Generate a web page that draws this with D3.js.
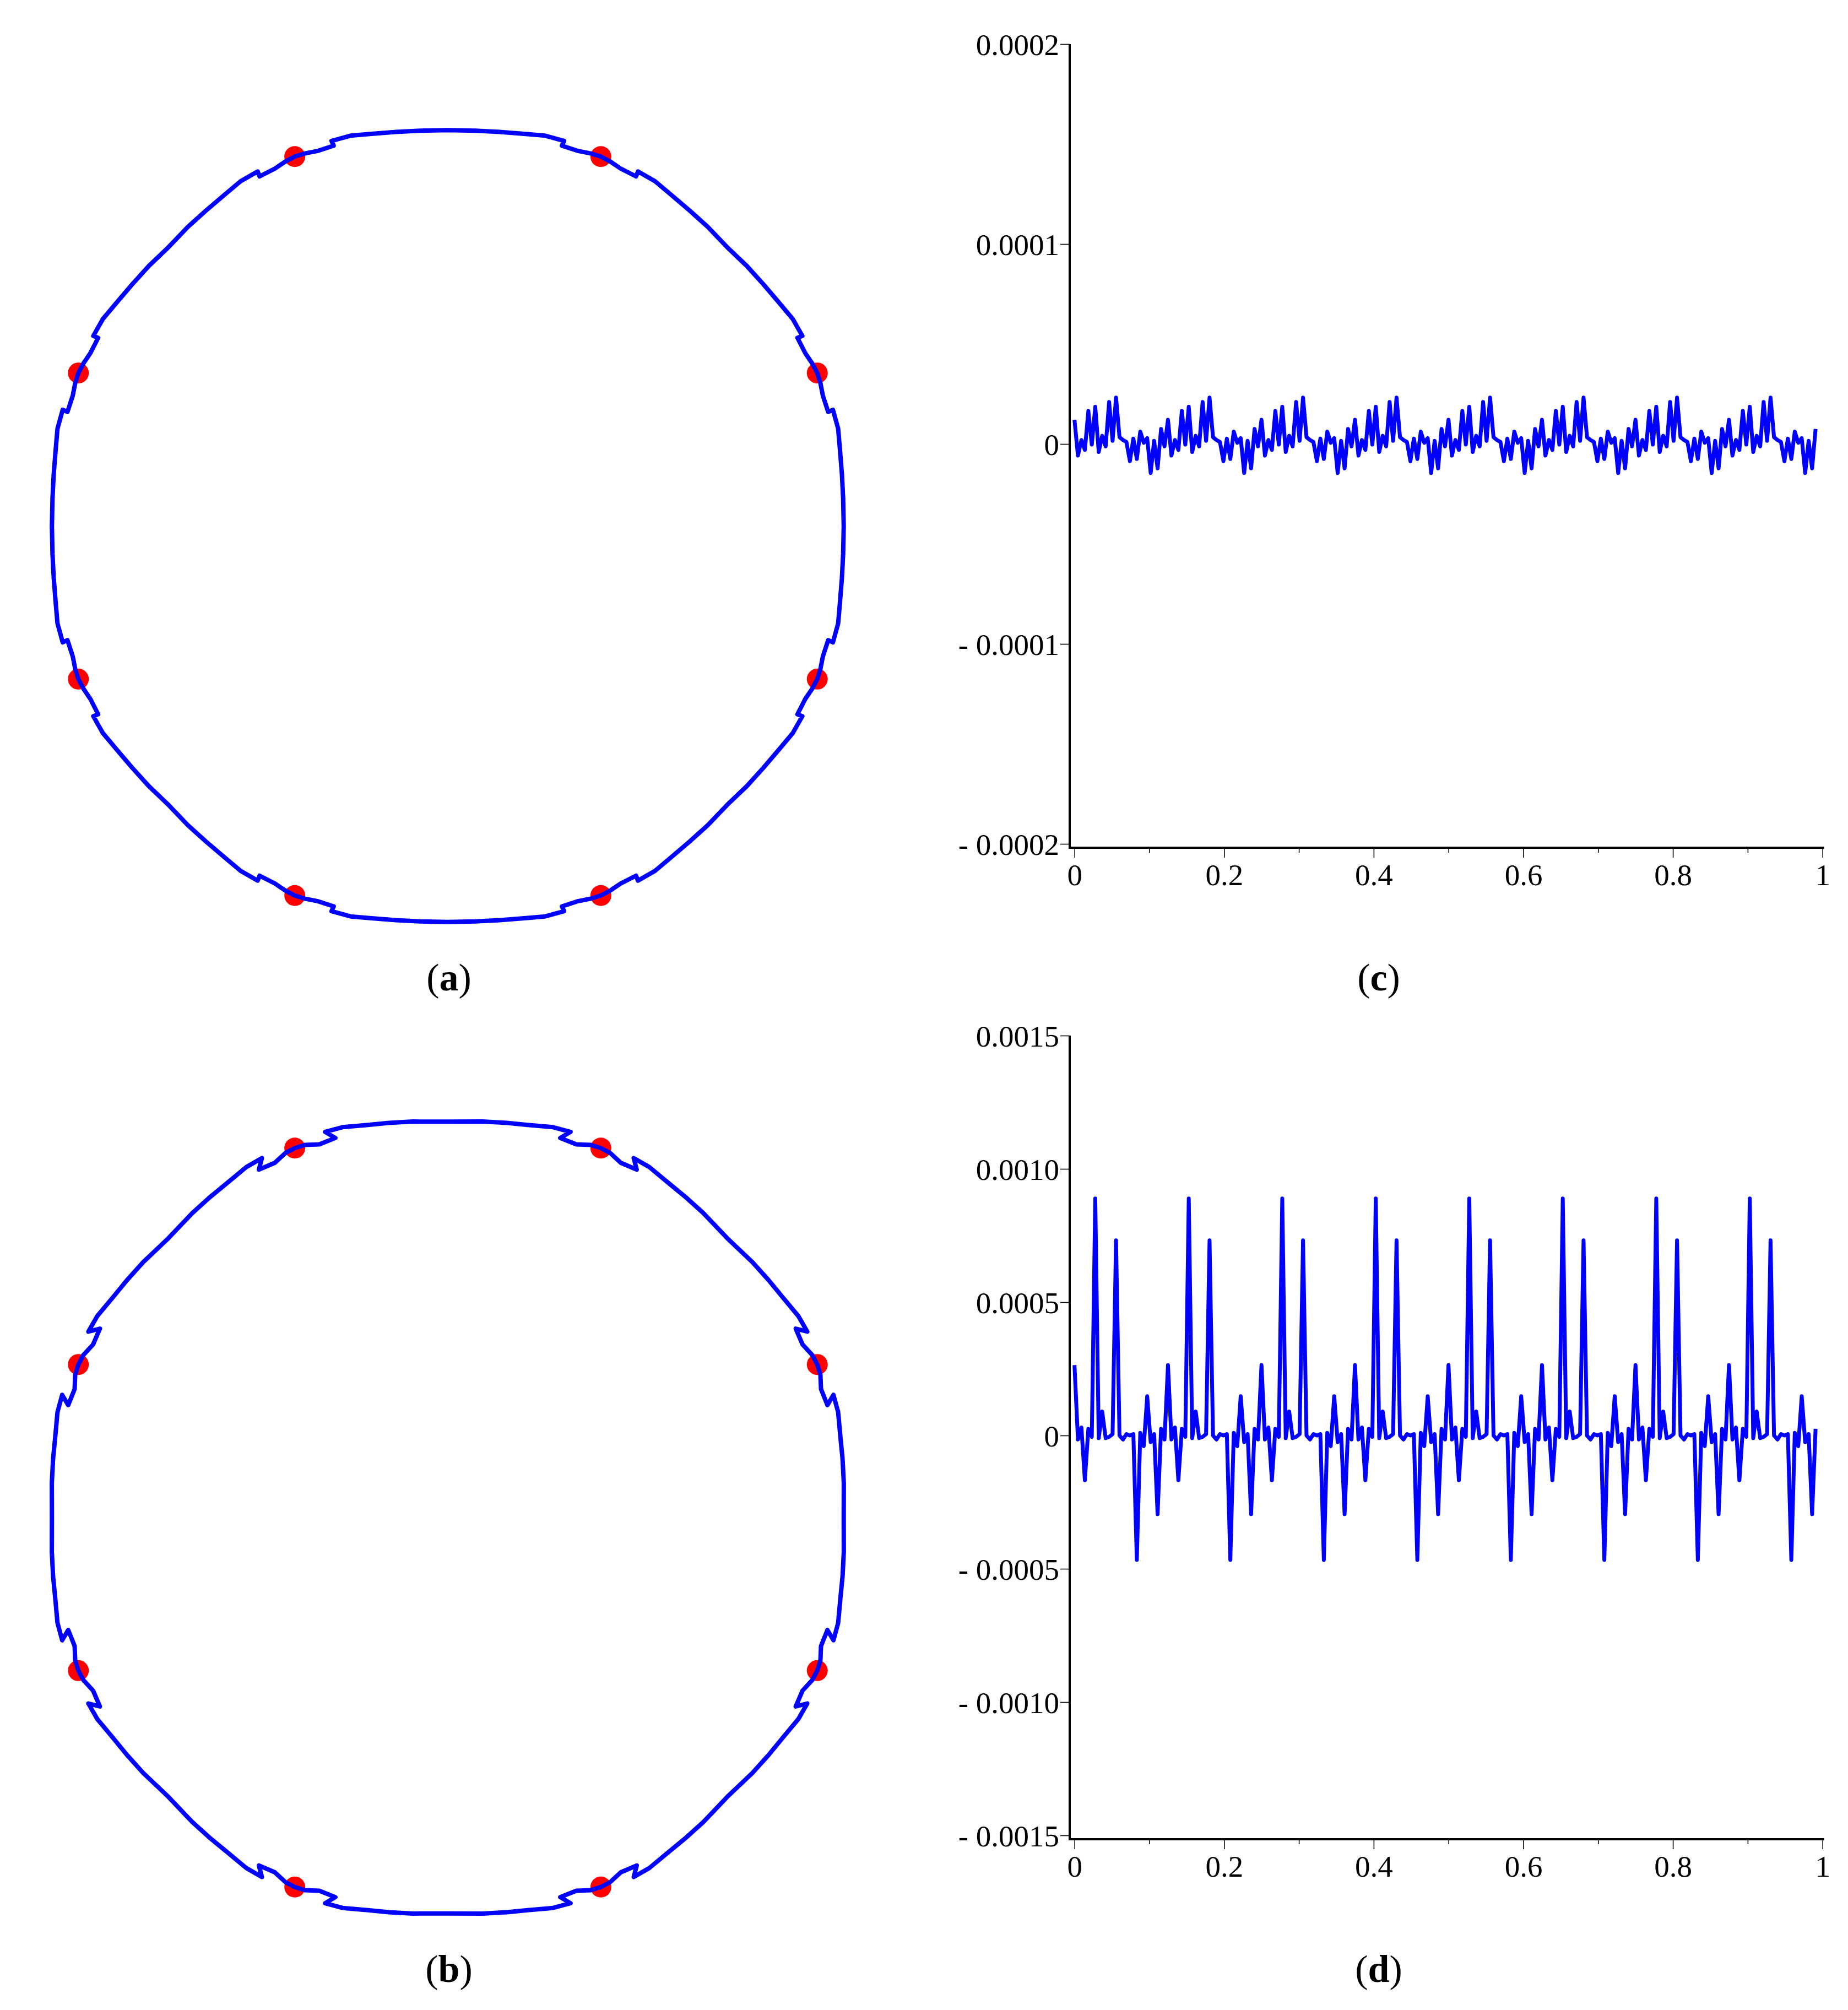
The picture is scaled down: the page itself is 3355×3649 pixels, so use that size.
<!DOCTYPE html>
<html>
<head>
<meta charset="utf-8">
<script src="https://cdn.jsdelivr.net/npm/d3@7"></script>
<style>
  body { margin: 0; background: #fff; }
</style>
</head>
<body>
<svg id="fig" width="3355" height="3649"></svg>
<script>
// Closed curves as [angle (deg, clockwise from top), radius / dot radius]
var curveA = [
  [22.5,1.000],[24,0.998],[25.8,0.993],[28.3,0.993],[28.2,1.006],[31,1.006],[34,0.999],[37.5,0.994],[41,0.991],[45,0.987],[49,0.991],[52.5,0.994],[56,0.999],[59,1.006],[61.8,1.006],[61.7,0.993],[64.2,0.993],[66,0.998],
  [67.5,1.000],[69,0.998],[70.8,0.993],[73.3,0.993],[73.2,1.006],[76,1.006],[79,0.999],[82.5,0.994],[86,0.991],[90,0.990],[94,0.991],[97.5,0.994],[101,0.999],[104,1.006],[106.8,1.006],[106.7,0.993],[109.2,0.993],[111,0.998],
  [112.5,1.000],[114,0.998],[115.8,0.993],[118.3,0.993],[118.2,1.006],[121,1.006],[124,0.999],[127.5,0.994],[131,0.991],[135,0.987],[139,0.991],[142.5,0.994],[146,0.999],[149,1.006],[151.8,1.006],[151.7,0.993],[154.2,0.993],[156,0.998],
  [157.5,1.000],[159,0.998],[160.8,0.993],[163.3,0.993],[163.2,1.006],[166,1.006],[169,0.999],[172.5,0.994],[176,0.991],[180,0.990],[184,0.991],[187.5,0.994],[191,0.999],[194,1.006],[196.8,1.006],[196.7,0.993],[199.2,0.993],[201,0.998],
  [202.5,1.000],[204,0.998],[205.8,0.993],[208.3,0.993],[208.2,1.006],[211,1.006],[214,0.999],[217.5,0.994],[221,0.991],[225,0.987],[229,0.991],[232.5,0.994],[236,0.999],[239,1.006],[241.8,1.006],[241.7,0.993],[244.2,0.993],[246,0.998],
  [247.5,1.000],[249,0.998],[250.8,0.993],[253.3,0.993],[253.2,1.006],[256,1.006],[259,0.999],[262.5,0.994],[266,0.991],[270,0.990],[274,0.991],[277.5,0.994],[281,0.999],[284,1.006],[286.8,1.006],[286.7,0.993],[289.2,0.993],[291,0.998],
  [292.5,1.000],[294,0.998],[295.8,0.993],[298.3,0.993],[298.2,1.006],[301,1.006],[304,0.999],[307.5,0.994],[311,0.991],[315,0.987],[319,0.991],[322.5,0.994],[326,0.999],[329,1.006],[331.8,1.006],[331.7,0.993],[334.2,0.993],[336,0.998],
  [337.5,1.000],[339,0.998],[340.8,0.993],[343.3,0.993],[343.2,1.006],[346,1.006],[349,0.999],[352.5,0.994],[356,0.991],[360,0.990],[364,0.991],[367.5,0.994],[371,0.999],[374,1.006],[376.8,1.006],[376.7,0.993],[379.2,0.993],[381,0.998]
];

var curveB = [
  [22.5,1.000],[24,0.998],[26,0.987],[28.5,0.990],[27.35,1.012],[29.9,1.011],[33.5,1.002],[36.5,0.998],[40,0.994],[45,0.988],[50,0.994],[53.5,0.998],[56.5,1.002],[60.1,1.011],[62.65,1.012],[61.5,0.990],[64,0.987],[66,0.998],
  [67.5,1.000],[69,0.998],[71,0.987],[73.5,0.990],[72.35,1.012],[74.9,1.011],[78.5,1.002],[81.5,0.998],[85,0.994],[90,0.990],[95,0.994],[98.5,0.998],[101.5,1.002],[105.1,1.011],[107.65,1.012],[106.5,0.990],[109,0.987],[111,0.998],
  [112.5,1.000],[114,0.998],[116,0.987],[118.5,0.990],[117.35,1.012],[119.9,1.011],[123.5,1.002],[126.5,0.998],[130,0.994],[135,0.988],[140,0.994],[143.5,0.998],[146.5,1.002],[150.1,1.011],[152.65,1.012],[151.5,0.990],[154,0.987],[156,0.998],
  [157.5,1.000],[159,0.998],[161,0.987],[163.5,0.990],[162.35,1.012],[164.9,1.011],[168.5,1.002],[171.5,0.998],[175,0.994],[180,0.990],[185,0.994],[188.5,0.998],[191.5,1.002],[195.1,1.011],[197.65,1.012],[196.5,0.990],[199,0.987],[201,0.998],
  [202.5,1.000],[204,0.998],[206,0.987],[208.5,0.990],[207.35,1.012],[209.9,1.011],[213.5,1.002],[216.5,0.998],[220,0.994],[225,0.988],[230,0.994],[233.5,0.998],[236.5,1.002],[240.1,1.011],[242.65,1.012],[241.5,0.990],[244,0.987],[246,0.998],
  [247.5,1.000],[249,0.998],[251,0.987],[253.5,0.990],[252.35,1.012],[254.9,1.011],[258.5,1.002],[261.5,0.998],[265,0.994],[270,0.990],[275,0.994],[278.5,0.998],[281.5,1.002],[285.1,1.011],[287.65,1.012],[286.5,0.990],[289,0.987],[291,0.998],
  [292.5,1.000],[294,0.998],[296,0.987],[298.5,0.990],[297.35,1.012],[299.9,1.011],[303.5,1.002],[306.5,0.998],[310,0.994],[315,0.988],[320,0.994],[323.5,0.998],[326.5,1.002],[330.1,1.011],[332.65,1.012],[331.5,0.990],[334,0.987],[336,0.998],
  [337.5,1.000],[339,0.998],[341,0.987],[343.5,0.990],[342.35,1.012],[344.9,1.011],[348.5,1.002],[351.5,0.998],[355,0.994],[360,0.990],[365,0.994],[368.5,0.998],[371.5,1.002],[375.1,1.011],[377.65,1.012],[376.5,0.990],[379,0.987],[381,0.998]
];

// red interpolation points (angle, radius)
var dotAngles = [22.5, 67.5, 112.5, 157.5, 202.5, 247.5, 292.5, 337.5];
var dotRadius = 1;

// error curves, sampled uniformly on [0,1)
var nSamples = 216;
var errC = [
  1.21e-5,-5.8e-6,2e-6,-3e-6,1.65e-5,-3e-7,1.86e-5,-4e-6,4.1e-6,-1.2e-6,2.1e-5,1.6e-6,2.32e-5,3.4e-6,2e-6,1e-6,-8.6e-6,2.7e-6,-7.5e-6,6.2e-6,6e-7,2.9e-6,-1.45e-5,1.6e-6,-1.22e-5,7.5e-6,-1.2e-6,
  1.21e-5,-5.8e-6,2e-6,-3e-6,1.65e-5,-3e-7,1.86e-5,-4e-6,4.1e-6,-1.2e-6,2.1e-5,1.6e-6,2.32e-5,3.4e-6,2e-6,1e-6,-8.6e-6,2.7e-6,-7.5e-6,6.2e-6,6e-7,2.9e-6,-1.45e-5,1.6e-6,-1.22e-5,7.5e-6,-1.2e-6,
  1.21e-5,-5.8e-6,2e-6,-3e-6,1.65e-5,-3e-7,1.86e-5,-4e-6,4.1e-6,-1.2e-6,2.1e-5,1.6e-6,2.32e-5,3.4e-6,2e-6,1e-6,-8.6e-6,2.7e-6,-7.5e-6,6.2e-6,6e-7,2.9e-6,-1.45e-5,1.6e-6,-1.22e-5,7.5e-6,-1.2e-6,
  1.21e-5,-5.8e-6,2e-6,-3e-6,1.65e-5,-3e-7,1.86e-5,-4e-6,4.1e-6,-1.2e-6,2.1e-5,1.6e-6,2.32e-5,3.4e-6,2e-6,1e-6,-8.6e-6,2.7e-6,-7.5e-6,6.2e-6,6e-7,2.9e-6,-1.45e-5,1.6e-6,-1.22e-5,7.5e-6,-1.2e-6,
  1.21e-5,-5.8e-6,2e-6,-3e-6,1.65e-5,-3e-7,1.86e-5,-4e-6,4.1e-6,-1.2e-6,2.1e-5,1.6e-6,2.32e-5,3.4e-6,2e-6,1e-6,-8.6e-6,2.7e-6,-7.5e-6,6.2e-6,6e-7,2.9e-6,-1.45e-5,1.6e-6,-1.22e-5,7.5e-6,-1.2e-6,
  1.21e-5,-5.8e-6,2e-6,-3e-6,1.65e-5,-3e-7,1.86e-5,-4e-6,4.1e-6,-1.2e-6,2.1e-5,1.6e-6,2.32e-5,3.4e-6,2e-6,1e-6,-8.6e-6,2.7e-6,-7.5e-6,6.2e-6,6e-7,2.9e-6,-1.45e-5,1.6e-6,-1.22e-5,7.5e-6,-1.2e-6,
  1.21e-5,-5.8e-6,2e-6,-3e-6,1.65e-5,-3e-7,1.86e-5,-4e-6,4.1e-6,-1.2e-6,2.1e-5,1.6e-6,2.32e-5,3.4e-6,2e-6,1e-6,-8.6e-6,2.7e-6,-7.5e-6,6.2e-6,6e-7,2.9e-6,-1.45e-5,1.6e-6,-1.22e-5,7.5e-6,-1.2e-6,
  1.21e-5,-5.8e-6,2e-6,-3e-6,1.65e-5,-3e-7,1.86e-5,-4e-6,4.1e-6,-1.2e-6,2.1e-5,1.6e-6,2.32e-5,3.4e-6,2e-6,1e-6,-8.6e-6,2.7e-6,-7.5e-6,6.2e-6,6e-7,2.9e-6,-1.45e-5,1.6e-6,-1.22e-5,7.5e-6
];
var errD = [
  2.64e-4,-1.5e-5,3e-5,-1.68e-4,2.5e-5,-5e-6,8.89e-4,-1e-5,9e-5,-1e-5,-5e-6,5e-6,7.32e-4,0,-1.5e-5,5e-6,0,5e-6,-4.67e-4,1e-5,-4e-5,1.47e-4,-2.5e-5,5e-6,-2.95e-4,2.5e-5,-1.5e-5,
  2.64e-4,-1.5e-5,3e-5,-1.68e-4,2.5e-5,-5e-6,8.89e-4,-1e-5,9e-5,-1e-5,-5e-6,5e-6,7.32e-4,0,-1.5e-5,5e-6,0,5e-6,-4.67e-4,1e-5,-4e-5,1.47e-4,-2.5e-5,5e-6,-2.95e-4,2.5e-5,-1.5e-5,
  2.64e-4,-1.5e-5,3e-5,-1.68e-4,2.5e-5,-5e-6,8.89e-4,-1e-5,9e-5,-1e-5,-5e-6,5e-6,7.32e-4,0,-1.5e-5,5e-6,0,5e-6,-4.67e-4,1e-5,-4e-5,1.47e-4,-2.5e-5,5e-6,-2.95e-4,2.5e-5,-1.5e-5,
  2.64e-4,-1.5e-5,3e-5,-1.68e-4,2.5e-5,-5e-6,8.89e-4,-1e-5,9e-5,-1e-5,-5e-6,5e-6,7.32e-4,0,-1.5e-5,5e-6,0,5e-6,-4.67e-4,1e-5,-4e-5,1.47e-4,-2.5e-5,5e-6,-2.95e-4,2.5e-5,-1.5e-5,
  2.64e-4,-1.5e-5,3e-5,-1.68e-4,2.5e-5,-5e-6,8.89e-4,-1e-5,9e-5,-1e-5,-5e-6,5e-6,7.32e-4,0,-1.5e-5,5e-6,0,5e-6,-4.67e-4,1e-5,-4e-5,1.47e-4,-2.5e-5,5e-6,-2.95e-4,2.5e-5,-1.5e-5,
  2.64e-4,-1.5e-5,3e-5,-1.68e-4,2.5e-5,-5e-6,8.89e-4,-1e-5,9e-5,-1e-5,-5e-6,5e-6,7.32e-4,0,-1.5e-5,5e-6,0,5e-6,-4.67e-4,1e-5,-4e-5,1.47e-4,-2.5e-5,5e-6,-2.95e-4,2.5e-5,-1.5e-5,
  2.64e-4,-1.5e-5,3e-5,-1.68e-4,2.5e-5,-5e-6,8.89e-4,-1e-5,9e-5,-1e-5,-5e-6,5e-6,7.32e-4,0,-1.5e-5,5e-6,0,5e-6,-4.67e-4,1e-5,-4e-5,1.47e-4,-2.5e-5,5e-6,-2.95e-4,2.5e-5,-1.5e-5,
  2.64e-4,-1.5e-5,3e-5,-1.68e-4,2.5e-5,-5e-6,8.89e-4,-1e-5,9e-5,-1e-5,-5e-6,5e-6,7.32e-4,0,-1.5e-5,5e-6,0,5e-6,-4.67e-4,1e-5,-4e-5,1.47e-4,-2.5e-5,5e-6,-2.95e-4,2.5e-5
];

// ticks
var xTicks = [0, 0.2, 0.4, 0.6, 0.8, 1];
var xTickLabels = ["0", "0.2", "0.4", "0.6", "0.8", "1"];
var xMinorTicks = [0.1, 0.3, 0.5, 0.7, 0.9];
var cTicks = [-0.0002, -0.0001, 0, 0.0001, 0.0002];
var cTickLabels = ["- 0.0002", "- 0.0001", "0", "0.0001", "0.0002"];
var dTicks = [-0.0015, -0.0010, -0.0005, 0, 0.0005, 0.0010, 0.0015];
var dTickLabels = ["- 0.0015", "- 0.0010", "- 0.0005", "0", "0.0005", "0.0010", "0.0015"];

var font = '"Liberation Serif", "Times New Roman", serif';
var blue = '#0000ff';
var red = '#ff0000';

var svg = d3.select('#fig');
svg.append('rect').attr('width', 3355).attr('height', 3649).attr('fill', '#fff');

var toRad = function (deg) { return deg * Math.PI / 180; };
var rScale = d3.scaleLinear().domain([0, 1]).range([0, 726]);

var radial = d3.lineRadial()
  .angle(function (d) { return toRad(d[0]); })
  .radius(function (d) { return rScale(d[1]); })
  .curve(d3.curveLinearClosed);

function caption(x, y, letter) {
  var t = svg.append('text')
    .attr('x', x).attr('y', y)
    .attr('text-anchor', 'middle')
    .attr('font-family', font)
    .attr('font-size', 70)
    .attr('fill', '#000');
  t.append('tspan').text('(');
  t.append('tspan').attr('font-weight', 'bold').text(letter);
  t.append('tspan').text(')');
}

function drawCurve(pts, cy) {
  var g = svg.append('g').attr('transform', 'translate(813,' + cy + ')');
  g.selectAll('circle').data(dotAngles).join('circle')
    .attr('cx', function (a) { return d3.pointRadial(toRad(a), rScale(dotRadius))[0]; })
    .attr('cy', function (a) { return d3.pointRadial(toRad(a), rScale(dotRadius))[1]; })
    .attr('r', 19)
    .attr('fill', red);
  g.append('path')
    .datum(pts)
    .attr('d', radial)
    .attr('fill', 'none')
    .attr('stroke', blue)
    .attr('stroke-width', 8)
    .attr('stroke-linejoin', 'round');
}

function drawError(values, yTicks, yLabels, top) {
  var height = 1452;
  var axisY = top + height + 7;
  var axisX = 1942;
  var x = d3.scaleLinear().domain([0, 1]).range([1950.7, 3308.7]);
  var y = d3.scaleLinear().domain([yTicks[0], yTicks[yTicks.length - 1]]).range([top + height, top]);

  var g = svg.append('g');

  // y ticks
  var ya = g.append('g')
    .attr('transform', 'translate(' + axisX + ',0)')
    .call(d3.axisLeft(y).tickValues(yTicks)
      .tickFormat(function (d, i) { return yLabels[i]; })
      .tickSize(17).tickPadding(2));
  ya.select('.domain').remove();
  ya.selectAll('line').attr('stroke', '#000').attr('stroke-width', 1.6);
  ya.selectAll('text').attr('dy', '0.36em')
    .attr('font-family', font).attr('font-size', 55).attr('fill', '#000');

  // x ticks
  var xa = g.append('g')
    .attr('transform', 'translate(0,' + axisY + ')')
    .call(d3.axisBottom(x).tickValues(xTicks)
      .tickFormat(function (d, i) { return xTickLabels[i]; })
      .tickSize(18).tickPadding(11));
  xa.select('.domain').remove();
  xa.selectAll('line').attr('stroke', '#000').attr('stroke-width', 1.6);
  xa.selectAll('text').attr('font-family', font).attr('font-size', 55).attr('fill', '#000');

  var xm = g.append('g')
    .attr('transform', 'translate(0,' + axisY + ')')
    .call(d3.axisBottom(x).tickValues(xMinorTicks).tickFormat('').tickSize(9));
  xm.select('.domain').remove();
  xm.selectAll('line').attr('stroke', '#000').attr('stroke-width', 1.6);

  // axis lines
  g.append('line')
    .attr('x1', axisX).attr('x2', axisX)
    .attr('y1', top).attr('y2', axisY + 2)
    .attr('stroke', '#000').attr('stroke-width', 4);
  g.append('line')
    .attr('x1', axisX - 2).attr('x2', x(1) + 3)
    .attr('y1', axisY).attr('y2', axisY)
    .attr('stroke', '#000').attr('stroke-width', 4);

  var line = d3.line()
    .x(function (d, i) { return x(i / nSamples); })
    .y(function (d) { return y(d); });

  g.append('path')
    .datum(values)
    .attr('d', line)
    .attr('fill', 'none')
    .attr('stroke', blue)
    .attr('stroke-width', 7)
    .attr('stroke-linejoin', 'round');
}

drawCurve(curveA, 955);
drawCurve(curveB, 2755);
drawError(errC, cTicks, cTickLabels, 80);
drawError(errD, dTicks, dTickLabels, 1880);

caption(815, 1798, 'a');
caption(815, 3598, 'b');
caption(2503, 1798, 'c');
caption(2503, 3598, 'd');
</script>
</body>
</html>
